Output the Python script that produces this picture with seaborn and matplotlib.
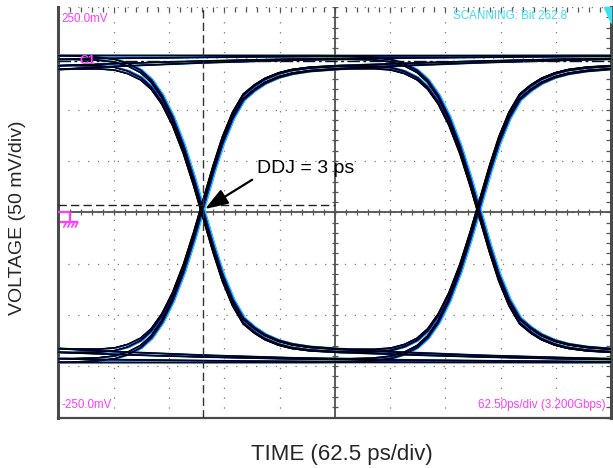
import numpy as np
import pandas as pd
import matplotlib
matplotlib.use("Agg")
import matplotlib.pyplot as plt
from matplotlib.ticker import MultipleLocator
import seaborn as sns

# ---------------- data ----------------
X_RANGE_PS = [0.0, 625.0]          # 10 div x 62.5 ps
Y_RANGE_MV = [-250.0, 250.0]       # screen limits
DIV_PS = 62.5
DIV_MV = 62.5
UI_PS = 312.5                      # 3.2 Gbps
CROSS_PS = 163.5                   # first eye crossing in window
V_LOW_MV = -183.0                  # settled low level
V_HIGH_MV = 191.0                  # settled high level
CROSS_LEVEL_MV = 9.4               # dashed crossing-level marker
C1_LEVEL_MV = 184.0                # dash-dot C1 reference level

# measured step response (fraction of swing) vs time from the 50% point
STEP_T_PS = [-200, -150, -120, -100, -85, -70, -58, -46, -34, -22, -11, 0,
             11, 22, 34, 46, 58, 70, 85, 100, 120, 150, 200, 300, 400, 500,
             650, 800, 1000, 1300]
STEP_FRAC = [0.0, 0.001, 0.005, 0.012, 0.025, 0.048, 0.08, 0.13, 0.2, 0.29,
             0.39, 0.5, 0.61, 0.71, 0.795, 0.855, 0.885, 0.908, 0.927, 0.939,
             0.948, 0.955, 0.963, 0.975, 0.984, 0.99, 0.995, 0.998, 1.0, 1.0]

# bit histories b[-3] b[-2] b[-1] b[0] b[1]
BIT_PATTERNS = ["00000", "00001", "00010", "00011", "00100", "00101", "00110", "00111",
                "01000", "01001", "01010", "01011", "01100", "01101", "01110", "01111",
                "10000", "10001", "10010", "10011", "10100", "10101", "10110", "10111",
                "11000", "11001", "11010", "11011", "11100", "11101", "11110", "11111"]

# colour-graded persistence layers of the scope display (bottom to top)
LAYER_SHIFT_PS = [1.0, 2.0, 0.0, -1.0]
LAYER_COLORS = ["#2aa860", "#20d0e8", "#1414e0", "#000000"]
LAYER_WIDTHS = [1.3, 0.5, 1.0, 0.7]

DDJ_TEXT = "DDJ = 3 ps"
DDJ_TIP = (165.6, 4.0)
DDJ_TEXT_POS = (224.0, 43.0)

SCREEN_TOP = "250.0mV"
SCREEN_BOTTOM = "-250.0mV"
SCREEN_STATUS = "SCANNING: Bit 262.8"
SCREEN_SCALE = "62.50ps/div (3.200Gbps)"
XLABEL = "TIME (62.5 ps/div)"
YLABEL = "VOLTAGE (50 mV/div)"

MAGENTA = "#ff3cff"
CYAN = "#3ce0f4"

# ---------------- build traces ----------------
t = np.linspace(X_RANGE_PS[0], X_RANGE_PS[1], 1251)
swing = V_HIGH_MV - V_LOW_MV
rows = []
for li, shift in enumerate(LAYER_SHIFT_PS):
    for p in BIT_PATTERNS:
        b = [int(c) for c in p]
        frac = np.full_like(t, float(b[0]))
        for k in range(1, 5):
            tk = CROSS_PS + UI_PS * (k - 3)
            frac = frac + (b[k] - b[k - 1]) * np.interp(t - shift - tk, STEP_T_PS, STEP_FRAC)
        v = V_LOW_MV + swing * frac
        rows.append(pd.DataFrame({"t": t, "v": v, "pattern": p, "layer": li}))
df = pd.concat(rows, ignore_index=True)

# ---------------- figure ----------------
sns.set_style("white")
plt.rcParams["font.family"] = ["Liberation Sans", "DejaVu Sans"]

fig = plt.figure(figsize=(6.13, 4.68), dpi=100)
ax = fig.add_axes([0.0954, 0.1079, 0.9018, 0.877])
ax.set_xlim(*X_RANGE_PS)
ax.set_ylim(*Y_RANGE_MV)

# dotted graticule
ax.xaxis.set_major_locator(MultipleLocator(DIV_PS))
ax.yaxis.set_major_locator(MultipleLocator(DIV_MV))
ax.xaxis.set_minor_locator(MultipleLocator(DIV_PS / 5))
ax.yaxis.set_minor_locator(MultipleLocator(DIV_MV / 5))
ax.grid(which="major", color="#777777", linestyle=(0, (1.0, 6.9)), linewidth=0.9)
ax.tick_params(which="both", direction="in", length=3.5, width=0.9, color="#555555",
               top=True, right=True, labelbottom=False, labelleft=False)

for side in ["left", "right"]:
    ax.spines[side].set_color("#4a4a4a")
    ax.spines[side].set_linewidth(2.2)
ax.spines["bottom"].set_color("#4a4a4a")
ax.spines["bottom"].set_linewidth(1.6)
ax.spines["top"].set_visible(False)

# centre axes with ticks
xc = (X_RANGE_PS[0] + X_RANGE_PS[1]) / 2
ax.axhline(0, color="#505050", lw=1.3, zorder=1)
ax.axvline(xc, color="#505050", lw=1.3, zorder=1)
xt = np.arange(X_RANGE_PS[0], X_RANGE_PS[1] + 0.1, DIV_PS / 5)
yt = np.arange(Y_RANGE_MV[0], Y_RANGE_MV[1] + 0.1, DIV_MV / 5)
ax.plot(xt, np.zeros_like(xt), ls="none", marker="|", ms=4, mew=0.9, color="#555555", zorder=1)
ax.plot(np.full_like(yt, xc), yt, ls="none", marker="_", ms=4, mew=0.9, color="#555555", zorder=1)

# waveform traces
for li in range(len(LAYER_SHIFT_PS)):
    sub = df[df["layer"] == li]
    sns.lineplot(data=sub, x="t", y="v", units="pattern", estimator=None, sort=False,
                 color=LAYER_COLORS[li], lw=LAYER_WIDTHS[li], ax=ax, zorder=3 + li)

# markers
ax.axvline(CROSS_PS, color="#333333", lw=1.0, ls=(0, (6, 3)), zorder=8)
ax.plot([X_RANGE_PS[0], xc], [CROSS_LEVEL_MV, CROSS_LEVEL_MV], color="#222222",
        lw=1.0, ls=(0, (6, 3)), zorder=8)
ax.axhline(C1_LEVEL_MV, color="#111111", lw=1.0, ls=(0, (9, 2.5, 2, 2.5)), zorder=8)

ax.set_xlabel("")
ax.set_ylabel("")

# screen annotations
ax.text(0.005, 0.986, SCREEN_TOP, transform=ax.transAxes, ha="left", va="top",
        fontsize=8.4, color=MAGENTA, zorder=10)
ax.text(0.005, 0.016, SCREEN_BOTTOM, transform=ax.transAxes, ha="left", va="bottom",
        fontsize=8.4, color=MAGENTA, zorder=10)
ax.text(0.817, 0.993, SCREEN_STATUS, transform=ax.transAxes, ha="center", va="top",
        fontsize=8.4, color=CYAN, zorder=10)
ax.text(0.990, 0.016, SCREEN_SCALE, transform=ax.transAxes, ha="right", va="bottom",
        fontsize=8.4, color=MAGENTA, zorder=10)
ax.text(24, C1_LEVEL_MV, "C1", ha="left", va="center", fontsize=9, fontweight="bold",
        color=MAGENTA, zorder=10)
ax.fill([0.986, 1.0, 1.0], [1.0, 1.0, 0.962], transform=ax.transAxes, color=CYAN,
        clip_on=False, zorder=10)

# ground marker
gk = dict(color=MAGENTA, lw=1.6, solid_capstyle="butt", zorder=10)
ax.plot([0, 12.5], [0, 0], **gk)
ax.plot([12.5, 12.5], [0, -12], **gk)
ax.plot([2, 22], [-12, -12], **gk)
for xs in [9, 13.5, 18, 22]:
    ax.plot([xs, xs - 3], [-12, -18], color=MAGENTA, lw=1.2, zorder=10)

# DDJ annotation
ax.annotate(DDJ_TEXT, xy=DDJ_TIP, xytext=DDJ_TEXT_POS, ha="left", va="bottom",
            fontsize=14, color="black", zorder=12,
            arrowprops=dict(arrowstyle="-|>,head_length=1.0,head_width=0.35",
                            color="black", lw=1.6, shrinkA=1, shrinkB=0,
                            relpos=(0.0, 0.0)))

fig.text(0.558, 0.028, XLABEL, ha="center", va="center", fontsize=16)
fig.text(0.029, 0.534, YLABEL, ha="center", va="center", rotation=90, fontsize=14)

fig.savefig("out.png", dpi=100)
